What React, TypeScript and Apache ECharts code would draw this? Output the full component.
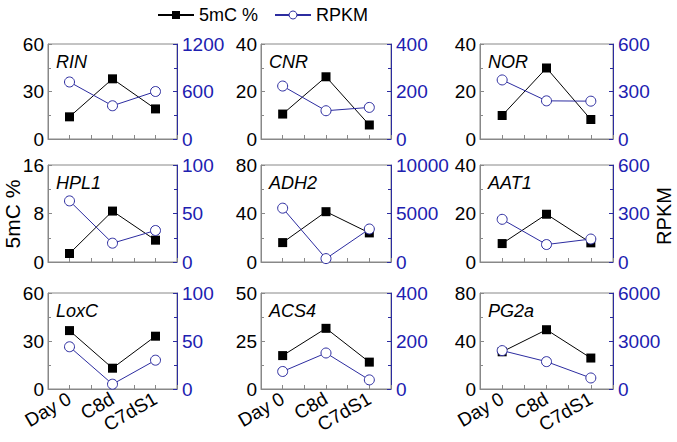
import React, { useEffect, useRef } from "react";
import * as echarts from "echarts";

const categories = ["Day 0", "C8d", "C7dS1"];
const genes = ["RIN", "CNR", "NOR", "HPL1", "ADH2", "AAT1", "LoxC", "ACS4", "PG2a"];

const mcRIN = [14, 38, 19];
const mcCNR = [10.5, 26.2, 5.9];
const mcNOR = [9.9, 29.9, 8.2];
const mcHPL1 = [1.4, 8.4, 3.6];
const mcADH2 = [16, 41.5, 24];
const mcAAT1 = [7.6, 19.7, 7.9];
const mcLoxC = [36.5, 13, 33];
const mcACS4 = [17.4, 31.6, 14];
const mcPG2a = [31, 49.4, 25.8];

const rpRIN = [720, 420, 600];
const rpCNR = [223, 119, 133];
const rpNOR = [373, 241, 239];
const rpHPL1 = [63, 19.4, 32.5];
const rpADH2 = [5550, 350, 3400];
const rpAAT1 = [264, 108, 142];
const rpLoxC = [44, 5, 30];
const rpACS4 = [73, 150, 38];
const rpPG2a = [2400, 1710, 690];

const methylation = [mcRIN, mcCNR, mcNOR, mcHPL1, mcADH2, mcAAT1, mcLoxC, mcACS4, mcPG2a];
const rpkm = [rpRIN, rpCNR, rpNOR, rpHPL1, rpADH2, rpAAT1, rpLoxC, rpACS4, rpPG2a];

const leftMax = [60, 40, 40, 16, 80, 40, 60, 50, 80];
const rightMax = [1200, 400, 600, 100, 10000, 600, 100, 400, 6000];

const colLeft = [48, 261, 480];
const colWidth = [129, 130, 133];
const rowTop = [44, 165, 293];
const rowHeight = [95, 97, 96];

const FONT = "Liberation Sans, Arial, sans-serif";
const BLUE_TEXT = "#2020b0";
const BLUE_LINE = "#2c2ca0";
const GRAY = "#888888";

export default function App() {
  const ref = useRef<HTMLDivElement>(null);
  useEffect(() => {
    document.body.style.margin = "0";
    const chart = echarts.init(ref.current!, null, { renderer: "svg" });
    const grids: any[] = [];
    const xAxes: any[] = [];
    const yAxes: any[] = [];
    const series: any[] = [];
    const graphics: any[] = [];
    const plain = (v: number) => String(v);
    for (let i = 0; i < 9; i++) {
      const r = Math.floor(i / 3);
      const c = i % 3;
      grids.push({
        left: colLeft[c],
        top: rowTop[r],
        width: colWidth[c],
        height: rowHeight[r],
        show: true,
        borderColor: GRAY,
        borderWidth: 1,
        backgroundColor: "transparent",
      });
      xAxes.push({
        type: "value",
        gridIndex: i,
        min: 0.5,
        max: 3.5,
        interval: 0.5,
        axisLine: { show: true, lineStyle: { color: GRAY, width: 1 } },
        axisTick: { show: true, inside: true, length: 4, lineStyle: { color: GRAY } },
        splitLine: { show: false },
        axisLabel: {
          show: r === 2,
          rotate: 30,
          margin: 8,
          fontSize: 19,
          fontFamily: FONT,
          color: "#000",
          formatter: (v: number) => {
            const k = Math.round(v);
            if (Math.abs(v - k) < 1e-6 && k >= 1 && k <= 3) return categories[k - 1];
            return "";
          },
        },
      });
      yAxes.push({
        type: "value",
        gridIndex: i,
        position: "left",
        min: 0,
        max: leftMax[i],
        interval: leftMax[i] / 2,
        axisLine: { show: true, lineStyle: { color: GRAY, width: 1 } },
        axisTick: { show: true, inside: true, length: 4, lineStyle: { color: GRAY } },
        minorTick: { show: true, splitNumber: 2, length: 3, lineStyle: { color: GRAY } },
        splitLine: { show: false },
        axisLabel: { color: "#000", fontSize: 19, fontFamily: FONT, margin: 4, formatter: plain },
      });
      yAxes.push({
        type: "value",
        gridIndex: i,
        position: "right",
        min: 0,
        max: rightMax[i],
        interval: rightMax[i] / 2,
        axisLine: { show: true, lineStyle: { color: BLUE_LINE, width: 1 } },
        axisTick: { show: true, inside: true, length: 4, lineStyle: { color: BLUE_LINE } },
        minorTick: { show: true, splitNumber: 2, length: 3, lineStyle: { color: BLUE_LINE } },
        splitLine: { show: false },
        axisLabel: { color: BLUE_TEXT, fontSize: 19, fontFamily: FONT, margin: 5, formatter: plain },
      });
      series.push({
        name: "5mC %",
        type: "line",
        xAxisIndex: i,
        yAxisIndex: 2 * i,
        data: methylation[i].map((v, k) => [k + 1, v]),
        symbol: "rect",
        symbolSize: 9,
        itemStyle: { color: "#000" },
        lineStyle: { color: "#000", width: 1 },
        z: 2,
      });
      series.push({
        name: "RPKM",
        type: "line",
        xAxisIndex: i,
        yAxisIndex: 2 * i + 1,
        data: rpkm[i].map((v, k) => [k + 1, v]),
        symbol: "circle",
        symbolSize: 10,
        itemStyle: { color: "#fff", borderColor: BLUE_LINE, borderWidth: 1 },
        lineStyle: { color: BLUE_LINE, width: 1 },
        z: 3,
      });
      graphics.push({
        type: "text",
        x: colLeft[c] + 8,
        y: rowTop[r] + 9,
        style: {
          text: genes[i],
          font: `italic 18px ${FONT}`,
          fill: "#000",
          textAlign: "left",
          textVerticalAlign: "top",
        },
      });
    }
    graphics.push({
      type: "text",
      x: 12,
      y: 214,
      rotation: Math.PI / 2,
      style: {
        text: "5mC %",
        font: `21px ${FONT}`,
        fill: "#000",
        textAlign: "center",
        textVerticalAlign: "middle",
      },
    });
    graphics.push({
      type: "text",
      x: 664,
      y: 216,
      rotation: Math.PI / 2,
      style: {
        text: "RPKM",
        font: `20px ${FONT}`,
        fill: "#000",
        textAlign: "center",
        textVerticalAlign: "middle",
      },
    });
    chart.setOption({
      animation: false,
      backgroundColor: "#fff",
      textStyle: { fontFamily: FONT },
      legend: {
        top: 1,
        left: 152,
        itemWidth: 36,
        itemHeight: 10,
        itemGap: 16,
        textStyle: { fontSize: 18, color: "#000", fontFamily: FONT },
        data: [
          { name: "5mC %", itemStyle: { color: "#000" } },
          { name: "RPKM", itemStyle: { color: "#fff", borderColor: BLUE_LINE, borderWidth: 1 } },
        ],
      },
      grid: grids,
      xAxis: xAxes,
      yAxis: yAxes,
      series,
      graphic: graphics,
    });
    return () => chart.dispose();
  }, []);
  return <div ref={ref} style={{ width: 677, height: 442 }} />;
}
